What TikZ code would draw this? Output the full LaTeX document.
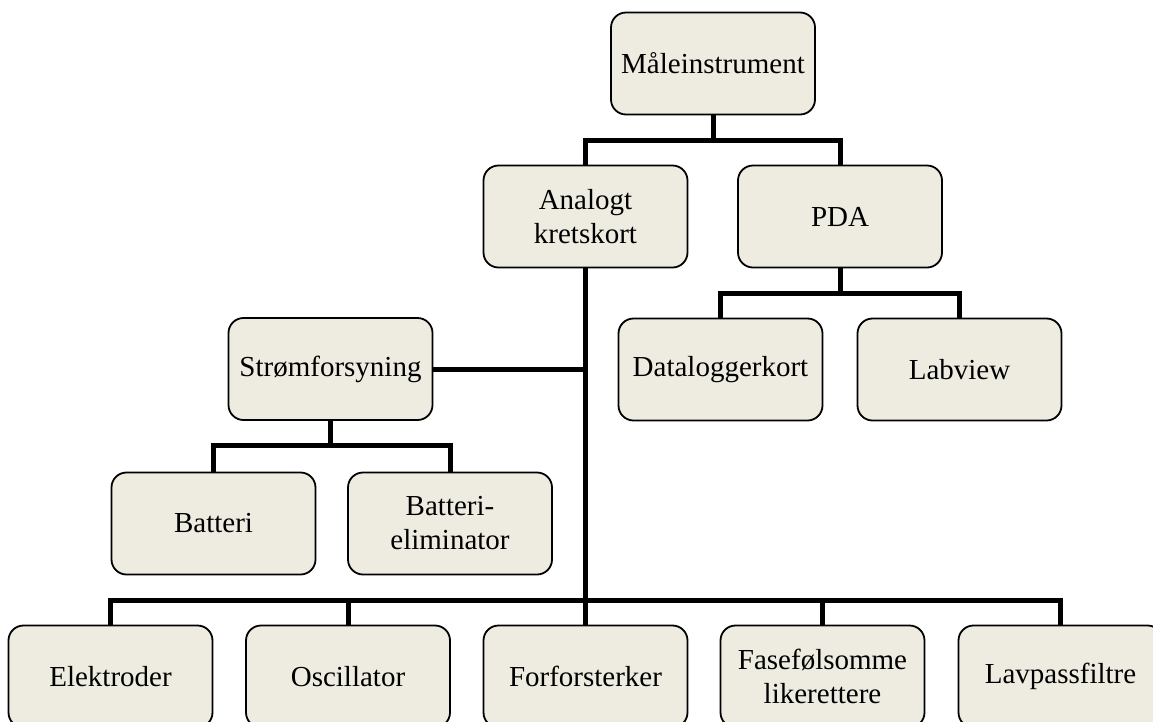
\documentclass[tikz,border=0pt]{standalone}
\usepackage{fontspec}
\setmainfont{Liberation Serif}
\begin{document}
\begin{tikzpicture}[x=1pt,y=-1pt,
  box/.style={draw=black, line width=1.8pt, fill=boxfill, rounded corners=15pt,
    minimum width=204pt, minimum height=102pt, inner sep=2pt, align=center,
    font=\fontsize{29}{34}\selectfont},
  link/.style={draw=black, line width=5pt}]
\definecolor{boxfill}{HTML}{EEECE1}
\useasboundingbox (0,0) rectangle (1153,721);
\begin{scope}
\clip (0,0) rectangle (1153,721);
% upper levels
\node[box] (mal) at (713,63.5) {Måleinstrument};
\node[box] (ana) at (585.5,216.5) {Analogt\\kretskort};
\node[box] (pda) at (840,216.5) {PDA};
\node[box] (strom) at (330.5,369) {Strømforsyning};
\node[box] (data) at (720.5,369.5) {Dataloggerkort};
\node[box] (lab) at (959.5,369.5) {Labview};
\node[box] (batt) at (213.5,523.5) {Batteri};
\node[box] (elim) at (450,523.5) {Batteri-\\eliminator};
% bottom row
\node[box] (elek) at (110.5,676.5) {Elektroder};
\node[box] (osc) at (348,676.5) {Oscillator};
\node[box] (forf) at (585.5,676.5) {Forforsterker};
\node[box] (fase) at (822.5,676.5) {Fasefølsomme\\likerettere};
\node[box] (lavp) at (1060.5,676.5) {Lavpassfiltre};
% bus levels
\coordinate (b1) at (713,140);
\coordinate (b2) at (840,293);
\coordinate (b3) at (330.5,445);
\coordinate (b4) at (585.5,600);
% connectors
\draw[link] (mal.south) -- (b1);
\draw[link] (ana.north) -- (ana.north |- b1) -- (pda.north |- b1) -- (pda.north);
\draw[link] (pda.south) -- (b2);
\draw[link] (data.north) -- (data.north |- b2) -- (lab.north |- b2) -- (lab.north);
\draw[link] (ana.south) -- (b4);
\draw[link] (strom.east) -- (strom.east -| ana.south);
\draw[link] (strom.south) -- (b3);
\draw[link] (batt.north) -- (batt.north |- b3) -- (elim.north |- b3) -- (elim.north);
\draw[link] (elek.north) -- (elek.north |- b4) -- (lavp.north |- b4) -- (lavp.north);
\draw[link] (osc.north) -- (osc.north |- b4);
\draw[link] (forf.north) -- (forf.north |- b4);
\draw[link] (fase.north) -- (fase.north |- b4);
\end{scope}
\end{tikzpicture}
\end{document}
